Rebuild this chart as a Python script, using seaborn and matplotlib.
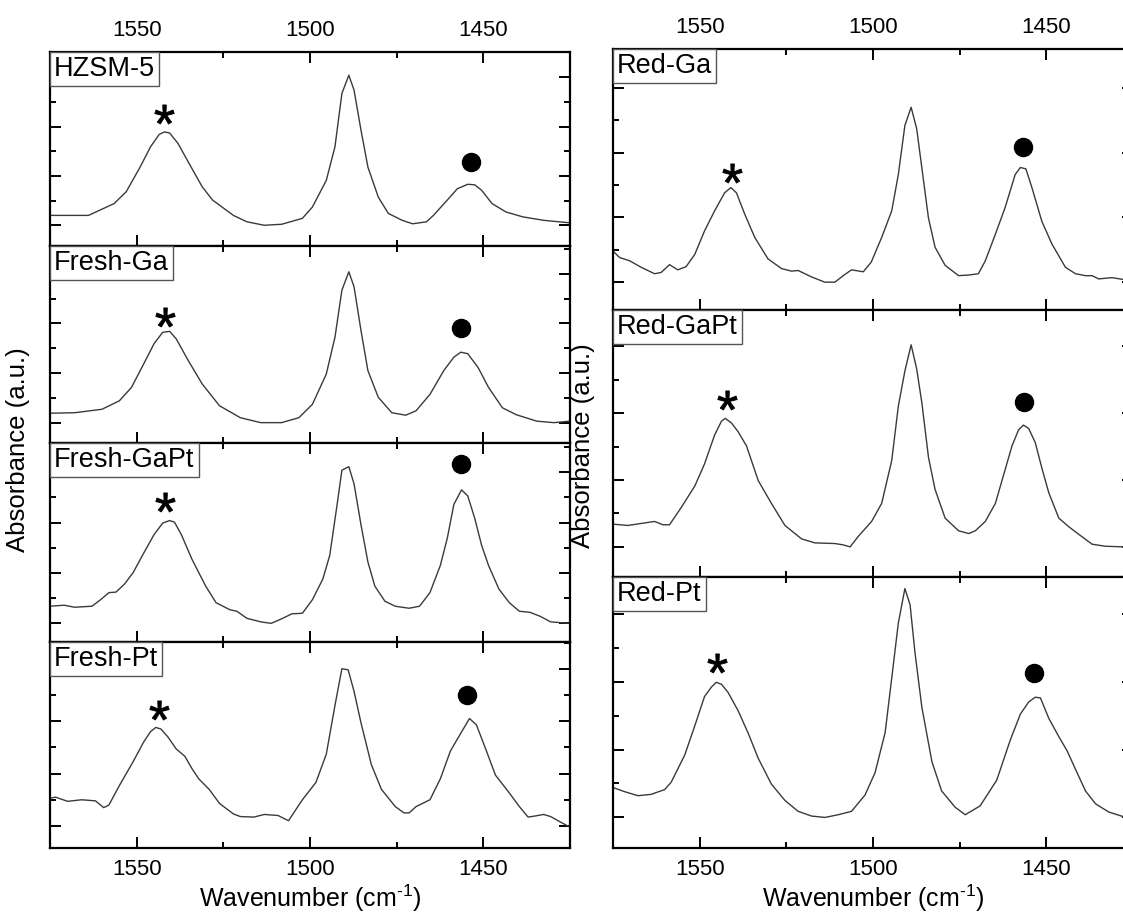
import numpy as np
import pandas as pd
import seaborn as sns
import matplotlib.pyplot as plt
from matplotlib.ticker import MultipleLocator
from matplotlib.offsetbox import AnchoredText

# ---- spectra (wavenumber in cm-1, absorbance in a.u.) ----
hzsm5_wn = [1575.1, 1563.9, 1556.5, 1553.0, 1549.0, 1546.0, 1543.5, 1542.0, 1540.5, 1538.1,
            1535.1, 1531.1, 1528.1, 1522.1, 1518.2, 1513.2, 1508.2, 1502.2, 1499.3, 1495.3,
            1492.8, 1490.8, 1488.8, 1487.3, 1485.3, 1483.3, 1480.3, 1477.4, 1473.4, 1470.4,
            1466.4, 1464.4, 1460.4, 1457.5, 1454.5, 1452.5, 1450.5, 1447.5, 1443.5, 1438.6,
            1432.6, 1425.1]
hzsm5_abs = [0.20, 0.20, 0.44, 0.68, 1.18, 1.59, 1.84, 1.89, 1.87, 1.66,
             1.28, 0.78, 0.51, 0.20, 0.07, 0.00, 0.02, 0.14, 0.37, 0.91,
             1.59, 2.67, 3.04, 2.74, 1.93, 1.18, 0.57, 0.24, 0.10, 0.03,
             0.07, 0.20, 0.51, 0.74, 0.83, 0.82, 0.71, 0.44, 0.27, 0.17,
             0.10, 0.05]

fresh_ga_wn = [1575.1, 1567.9, 1560.0, 1555.0, 1551.5, 1548.0, 1545.0, 1542.5, 1540.5, 1538.6,
               1535.1, 1531.1, 1526.1, 1520.1, 1514.2, 1508.2, 1503.2, 1499.3, 1495.3, 1492.8,
               1490.8, 1488.8, 1487.3, 1485.3, 1483.3, 1480.3, 1476.4, 1472.4, 1469.4, 1465.4,
               1461.4, 1458.5, 1456.5, 1454.5, 1451.5, 1448.5, 1444.5, 1440.5, 1434.6, 1429.6,
               1425.1]
fresh_ga_abs = [0.19, 0.20, 0.27, 0.44, 0.71, 1.18, 1.59, 1.82, 1.84, 1.69,
                1.25, 0.78, 0.34, 0.10, 0.00, 0.00, 0.10, 0.37, 0.98, 1.72,
                2.67, 3.04, 2.74, 1.86, 1.05, 0.51, 0.20, 0.15, 0.24, 0.57,
                1.05, 1.32, 1.42, 1.39, 1.11, 0.71, 0.30, 0.16, 0.03, 0.00,
                0.03]

fresh_gapt_wn = [1575.1, 1570.9, 1567.9, 1562.9, 1560.4, 1558.0, 1556.0, 1553.5, 1551.0, 1548.0,
                 1545.0, 1542.5, 1540.5, 1539.1, 1537.1, 1534.1, 1530.1, 1527.1, 1523.1, 1521.1,
                 1518.2, 1514.2, 1511.2, 1508.2, 1505.2, 1502.2, 1499.3, 1496.3, 1494.3, 1492.3,
                 1490.8, 1488.8, 1487.3, 1485.3, 1483.3, 1481.3, 1478.4, 1475.4, 1471.4, 1468.4,
                 1465.4, 1462.4, 1460.4, 1458.5, 1456.3, 1454.5, 1452.5, 1450.5, 1448.5, 1445.5,
                 1442.5, 1439.6, 1436.6, 1433.6, 1430.6, 1425.1]
fresh_gapt_abs = [0.34, 0.36, 0.32, 0.34, 0.47, 0.61, 0.62, 0.78, 1.01, 1.39,
                  1.76, 1.99, 2.04, 2.01, 1.76, 1.28, 0.74, 0.41, 0.27, 0.24,
                  0.10, 0.03, 0.00, 0.09, 0.19, 0.20, 0.47, 0.88, 1.35, 2.30,
                  3.04, 3.11, 2.77, 1.96, 1.22, 0.74, 0.44, 0.34, 0.30, 0.34,
                  0.61, 1.15, 1.69, 2.36, 2.65, 2.53, 2.09, 1.55, 1.15, 0.68,
                  0.41, 0.24, 0.22, 0.14, 0.03, 0.00]

fresh_pt_wn = [1575.1, 1573.4, 1569.9, 1565.9, 1561.9, 1559.5, 1558.0, 1555.0, 1551.0, 1548.0,
               1546.0, 1544.5, 1543.0, 1541.0, 1538.6, 1536.1, 1534.1, 1532.1, 1529.1, 1526.1,
               1522.1, 1520.1, 1516.2, 1513.2, 1509.2, 1506.2, 1502.2, 1498.3, 1495.3, 1492.8,
               1490.8, 1489.0, 1487.3, 1485.3, 1482.3, 1479.4, 1475.4, 1472.9, 1471.4, 1469.4,
               1465.4, 1462.4, 1459.5, 1456.5, 1454.0, 1452.0, 1449.5, 1446.5, 1442.5, 1439.6,
               1437.1, 1435.1, 1432.6, 1430.6, 1427.6, 1425.1]
fresh_pt_abs = [0.53, 0.55, 0.47, 0.50, 0.48, 0.35, 0.40, 0.77, 1.23, 1.60,
                1.80, 1.88, 1.85, 1.70, 1.47, 1.33, 1.10, 0.90, 0.70, 0.43,
                0.23, 0.18, 0.17, 0.22, 0.20, 0.10, 0.50, 0.83, 1.37, 2.30,
                3.00, 2.98, 2.57, 1.97, 1.17, 0.70, 0.37, 0.25, 0.25, 0.37,
                0.50, 0.90, 1.43, 1.77, 2.05, 1.93, 1.50, 0.97, 0.63, 0.37,
                0.17, 0.19, 0.22, 0.18, 0.07, -0.02]

red_ga_wn = [1575.0, 1573.1, 1570.2, 1566.9, 1563.0, 1561.1, 1558.7, 1556.3, 1553.9, 1551.4,
             1548.6, 1545.7, 1542.8, 1541.0, 1539.4, 1537.0, 1534.1, 1530.3, 1526.4, 1523.5,
             1521.6, 1517.7, 1513.9, 1511.0, 1508.6, 1506.2, 1502.8, 1500.5, 1497.5, 1494.6,
             1492.7, 1490.8, 1489.0, 1487.4, 1485.9, 1484.0, 1482.1, 1479.2, 1475.3, 1472.4,
             1469.6, 1467.6, 1464.7, 1461.9, 1459.0, 1457.5, 1455.9, 1454.1, 1451.3, 1448.4,
             1444.5, 1441.6, 1438.7, 1436.8, 1434.9, 1431.0, 1427.7, 1425.0]
red_ga_abs = [0.48, 0.38, 0.33, 0.23, 0.13, 0.15, 0.27, 0.19, 0.24, 0.43,
              0.79, 1.10, 1.38, 1.46, 1.38, 1.05, 0.69, 0.36, 0.21, 0.17,
              0.18, 0.08, 0.00, 0.00, 0.10, 0.19, 0.16, 0.31, 0.69, 1.10,
              1.66, 2.42, 2.70, 2.37, 1.76, 0.99, 0.54, 0.26, 0.10, 0.11,
              0.13, 0.33, 0.74, 1.15, 1.66, 1.77, 1.75, 1.45, 0.94, 0.59,
              0.23, 0.13, 0.10, 0.10, 0.05, 0.07, 0.04, 0.04]

red_gapt_wn = [1575.0, 1570.7, 1566.9, 1563.0, 1560.6, 1558.7, 1555.3, 1551.4, 1548.6, 1545.7,
               1543.7, 1542.6, 1540.8, 1538.9, 1536.5, 1533.1, 1529.3, 1525.4, 1520.6, 1516.8,
               1511.0, 1508.6, 1506.6, 1504.2, 1500.4, 1497.5, 1494.6, 1492.7, 1490.8, 1489.0,
               1487.4, 1485.9, 1484.0, 1482.1, 1479.2, 1475.3, 1472.4, 1470.5, 1467.6, 1464.7,
               1462.3, 1459.9, 1458.0, 1456.6, 1455.1, 1453.2, 1451.3, 1449.3, 1446.4, 1443.5,
               1440.7, 1436.8, 1433.0, 1427.7, 1425.0]
red_gapt_abs = [0.34, 0.32, 0.35, 0.38, 0.33, 0.33, 0.59, 0.91, 1.24, 1.67,
                1.88, 1.92, 1.85, 1.72, 1.51, 0.99, 0.65, 0.32, 0.12, 0.06,
                0.05, 0.03, 0.00, 0.16, 0.38, 0.65, 1.29, 2.10, 2.63, 3.02,
                2.66, 2.15, 1.34, 0.86, 0.43, 0.24, 0.20, 0.24, 0.38, 0.65,
                1.08, 1.51, 1.75, 1.82, 1.77, 1.56, 1.18, 0.81, 0.43, 0.30,
                0.19, 0.04, 0.01, 0.00, 0.00]

red_pt_wn = [1575.0, 1571.7, 1567.8, 1564.0, 1560.1, 1558.2, 1554.3, 1551.4, 1548.6, 1546.6,
             1545.2, 1543.7, 1541.8, 1538.9, 1536.0, 1533.1, 1529.3, 1525.4, 1521.6, 1517.7,
             1513.9, 1510.0, 1506.2, 1502.3, 1499.4, 1496.5, 1494.6, 1492.7, 1490.8, 1489.3,
             1487.9, 1485.9, 1483.0, 1480.2, 1476.3, 1473.4, 1469.1, 1464.3, 1460.4, 1457.5,
             1455.1, 1453.2, 1451.7, 1449.3, 1446.4, 1444.0, 1441.6, 1438.7, 1435.8, 1432.0,
             1427.7, 1425.0]
red_pt_abs = [0.44, 0.38, 0.32, 0.34, 0.41, 0.52, 0.92, 1.35, 1.78, 1.92,
              1.99, 1.96, 1.84, 1.57, 1.24, 0.87, 0.49, 0.25, 0.09, 0.02,
              0.00, 0.04, 0.09, 0.33, 0.66, 1.25, 2.05, 2.86, 3.37, 3.13,
              2.43, 1.62, 0.82, 0.39, 0.15, 0.04, 0.17, 0.55, 1.14, 1.52,
              1.70, 1.77, 1.76, 1.46, 1.19, 0.98, 0.71, 0.39, 0.20, 0.08,
              0.01, 0.01]

# sample names and band markers (* Bronsted ~1545, dot Lewis ~1455)
sample_names = ["HZSM-5", "Fresh-Ga", "Fresh-GaPt", "Fresh-Pt", "Red-Ga", "Red-GaPt", "Red-Pt"]
star_wn = [1542.2, 1541.8, 1541.8, 1543.5, 1540.8, 1542.0, 1544.9]
star_abs = [2.26, 2.13, 2.40, 2.22, 1.68, 2.20, 2.27]
dot_wn = [1453.5, 1456.3, 1456.5, 1454.8, 1456.8, 1456.4, 1453.5]
dot_abs = [1.28, 1.91, 3.16, 2.49, 2.09, 2.16, 2.12]
y_limits = [(-0.42, 3.51), (-0.41, 3.56), (-0.37, 3.58), (-0.42, 3.51),
            (-0.43, 3.60), (-0.45, 3.54), (-0.45, 3.54)]

spectra = [(hzsm5_wn, hzsm5_abs), (fresh_ga_wn, fresh_ga_abs), (fresh_gapt_wn, fresh_gapt_abs),
           (fresh_pt_wn, fresh_pt_abs), (red_ga_wn, red_ga_abs), (red_gapt_wn, red_gapt_abs),
           (red_pt_wn, red_pt_abs)]

sns.set_theme(style="white")
plt.rcParams['font.family'] = ['Liberation Sans', 'DejaVu Sans']
plt.rcParams['mathtext.fontset'] = 'custom'
plt.rcParams['mathtext.rm'] = 'Liberation Sans'
plt.rcParams['mathtext.it'] = 'Liberation Sans:italic'
plt.rcParams['text.color'] = 'black'
plt.rcParams['axes.labelcolor'] = 'black'

W, H = 1123, 917
fig = plt.figure(figsize=(W / 100, H / 100), dpi=100)

# panel frames in pixels: (left, top, bottom) ; both columns are 520 px wide
left_edges = [50, 50, 50, 50, 613, 613, 613]
top_edges = [52, 246, 443, 642, 49, 310, 577]
bottom_edges = [246, 443, 642, 848, 310, 577, 848]
col_w = 520

for i, name in enumerate(sample_names):
    x0, t, b = left_edges[i], top_edges[i], bottom_edges[i]
    ax = fig.add_axes([x0 / W, 1 - b / H, col_w / W, (b - t) / H])
    wn, ab = spectra[i]
    df = pd.DataFrame({"wn": wn, "abs": ab})
    sns.lineplot(data=df, x="wn", y="abs", ax=ax, color="#3a3a3a", lw=1.0,
                 sort=False, estimator=None)
    ax.plot(star_wn[i], star_abs[i], marker="$*$", ms=14, color="black",
            mec="black", mew=0.6, ls="none")
    ax.plot(dot_wn[i], dot_abs[i], marker="o", ms=13, color="black", ls="none")

    ax.set_xlim(1575, 1425)
    ax.set_ylim(*y_limits[i])
    ax.xaxis.set_major_locator(MultipleLocator(50))
    ax.xaxis.set_minor_locator(MultipleLocator(25))
    ax.yaxis.set_major_locator(MultipleLocator(1))
    ax.yaxis.set_minor_locator(MultipleLocator(0.5))

    is_top = i in (0, 4)
    is_bottom = i in (3, 6)
    ax.tick_params(which="both", direction="in", top=True, bottom=True, left=True, right=True,
                   labelleft=False, labelright=False, labeltop=is_top, labelbottom=is_bottom,
                   width=1.4, colors="black", labelsize=16, pad=8)
    ax.tick_params(which="major", length=8)
    ax.tick_params(which="minor", length=4)
    for s in ax.spines.values():
        s.set_color("black")
        s.set_linewidth(1.6)

    ax.set_ylabel("")
    if is_bottom:
        ax.set_xlabel("Wavenumber (cm$^{\\text{-1}}$)", fontsize=18, labelpad=2)
    else:
        ax.set_xlabel("")

    at = AnchoredText(name, loc="upper left", pad=0.15, borderpad=0.0,
                      prop=dict(size=19.5, color="black"), frameon=True)
    at.patch.set_boxstyle("square,pad=0")
    at.patch.set_edgecolor("#555555")
    at.patch.set_linewidth(1.0)
    ax.add_artist(at)

fig.text(18 / W, 1 - 450 / H, "Absorbance (a.u.)", rotation=90, fontsize=18.5,
         ha="center", va="center", color="black")
fig.text(583 / W, 1 - 446 / H, "Absorbance (a.u.)", rotation=90, fontsize=18.5,
         ha="center", va="center", color="black")

fig.savefig("out.png", dpi=100, facecolor="white")
